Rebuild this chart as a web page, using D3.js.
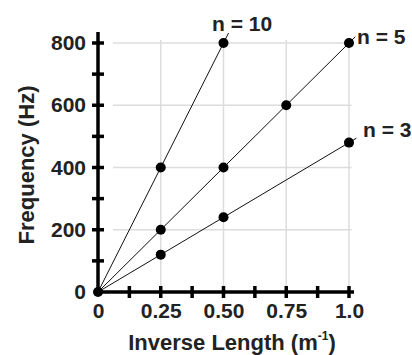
<!DOCTYPE html>
<html lang="en">
<head>
    <meta charset="UTF-8">
    <title>Frequency vs Inverse Length</title>
    <style>
        body { margin: 0; background: #fff; }
        text { font-family: "Liberation Sans", Arial, sans-serif; font-weight: bold; fill: #222; }
    </style>
</head>
<body>
    <svg id="chart" width="412" height="355"></svg>
    <script src="https://d3js.org/d3.v7.min.js"></script>
    <script>
        // values
        let invLength = [0, 0.25, 0.5, 0.75, 1.0]
        let n10 = [0, 400, 800, null, null]
        let n5 = [0, 200, 400, 600, 800]
        let n3 = [0, 120, 240, null, 480]
        let seriesNames = ['n = 10', 'n = 5', 'n = 3']
        let xTickLabels = ['0', '0.25', '0.50', '0.75', '1.0']
        let yTicks = [0, 200, 400, 600, 800]

        var svg = d3.select('#chart')

        var x = d3.scaleLinear().domain([0, 1]).range([98, 349])
        var y = d3.scaleLinear().domain([0, 800]).range([292, 43])

        // grid
        var grid = svg.append('g').attr('stroke', '#dcdcdc').attr('stroke-width', 1.5)
        grid.selectAll('.vg')
            .data(invLength.slice(1))
            .enter()
            .append('line')
            .attr('x1', d => x(d)).attr('x2', d => x(d))
            .attr('y1', y(810)).attr('y2', y(0))
        grid.selectAll('.hg')
            .data(yTicks.slice(1))
            .enter()
            .append('line')
            .attr('x1', x(0.06)).attr('x2', x(1.01))
            .attr('y1', d => y(d)).attr('y2', d => y(d))

        // lines + points
        let series = [n10, n5, n3]
        let lineEnd = [0.52, 1.025, 1.03] // lines run a little past the last point
        let labelPos = [[212, 31], [357, 44], [363, 137]]

        series.forEach((s, i) => {
            let pts = invLength.map((v, j) => [v, s[j]]).filter(p => p[1] !== null)
            let last = pts[pts.length - 1]
            let slope = last[1] / last[0]
            svg.append('line')
                .attr('x1', x(0)).attr('y1', y(0))
                .attr('x2', x(lineEnd[i])).attr('y2', y(slope * lineEnd[i]))
                .attr('stroke', '#111').attr('stroke-width', 1)
            svg.append('g')
                .selectAll('circle')
                .data(pts.slice(1))
                .enter()
                .append('circle')
                .attr('cx', p => x(p[0]))
                .attr('cy', p => y(p[1]))
                .attr('r', 5)
                .attr('fill', '#000')
            svg.append('text')
                .attr('x', labelPos[i][0]).attr('y', labelPos[i][1])
                .attr('font-size', 21)
                .text(seriesNames[i])
        })

        // axes
        var yAxis = svg.append('g')
            .attr('transform', 'translate(' + x(0) + ',0)')
            .call(d3.axisLeft(y).tickValues(yTicks).tickFormat(d3.format('d')).tickSize(0).tickPadding(12))
        yAxis.select('.domain').remove()
        yAxis.selectAll('text').attr('font-size', 21).attr('fill', '#222').attr('font-family', null)

        var xAxis = svg.append('g')
            .attr('transform', 'translate(0,' + y(0) + ')')
            .call(d3.axisBottom(x).tickValues(invLength).tickFormat((d, i) => xTickLabels[i]).tickSize(0).tickPadding(11))
        xAxis.select('.domain').remove()
        xAxis.selectAll('text').attr('font-size', 21).attr('fill', '#222').attr('font-family', null)

        // thick axis lines with crossing ticks
        var ax = svg.append('g').attr('stroke', '#000').attr('stroke-width', 3.5)
        ax.append('line').attr('x1', x(0)).attr('x2', x(0)).attr('y1', y(0)).attr('y2', y(835))
        ax.append('line').attr('x1', x(0)).attr('x2', x(1.02)).attr('y1', y(0)).attr('y2', y(0))
        ax.selectAll('.yt')
            .data(d3.range(100, 801, 100))
            .enter()
            .append('line')
            .attr('x1', x(0) - 6).attr('x2', x(0) + 6)
            .attr('y1', d => y(d)).attr('y2', d => y(d))
        ax.selectAll('.xt')
            .data(d3.range(0.125, 1.01, 0.125))
            .enter()
            .append('line')
            .attr('x1', d => x(d)).attr('x2', d => x(d))
            .attr('y1', y(0) - 6).attr('y2', y(0) + 6)
        svg.append('circle').attr('cx', x(0)).attr('cy', y(0)).attr('r', 5).attr('fill', '#000')

        // axis titles
        svg.append('text')
            .attr('transform', 'translate(34,165) rotate(-90)')
            .attr('text-anchor', 'middle')
            .attr('font-size', 22)
            .text('Frequency (Hz)')
        var xt = svg.append('text')
            .attr('x', 232).attr('y', 350)
            .attr('text-anchor', 'middle')
            .attr('font-size', 22)
        xt.append('tspan').text('Inverse Length (m')
        xt.append('tspan').attr('font-size', 12).attr('dy', -10).attr('dx', 0).text('-1')
        xt.append('tspan').attr('dy', 10).text(')')
    </script>
</body>
</html>
